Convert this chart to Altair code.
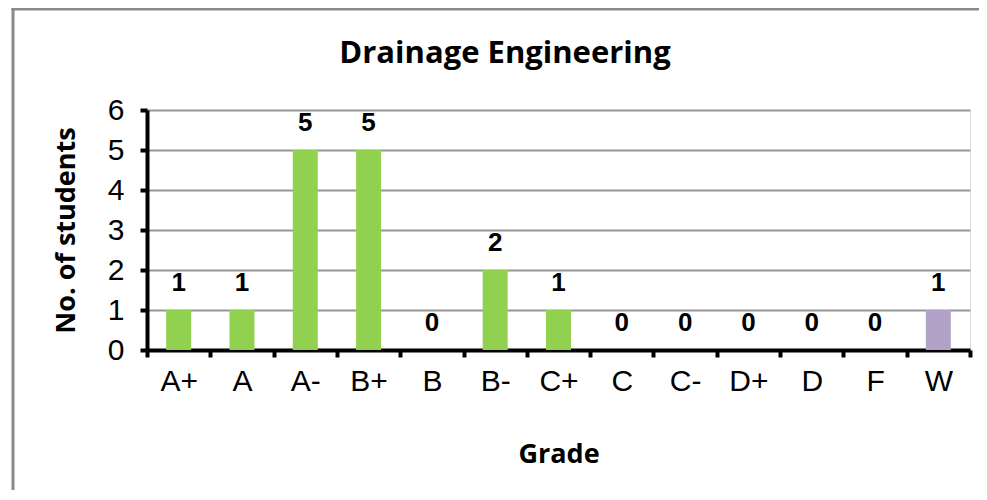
import altair as alt
import pandas as pd

grades = ["A+", "A", "A-", "B+", "B", "B-", "C+", "C", "C-", "D+", "D", "F", "W"]
counts = [1, 1, 5, 5, 0, 2, 1, 0, 0, 0, 0, 0, 1]
groups = ["graded"] * 12 + ["withdrawn"]
title_text = "Drainage Engineering"

df = pd.DataFrame({"Grade": grades, "Count": counts, "Group": groups})

W, H = 823, 240

x_enc = alt.X(
    "Grade:N",
    sort=grades,
    scale=alt.Scale(paddingInner=0, paddingOuter=0),
    axis=alt.Axis(
        title="Grade",
        labelAngle=0,
        labelFont="Liberation Sans",
        labelFontSize=30,
        labelColor="black",
        labelPadding=9,
        labelOverlap=False,
        tickBand="extent",
        tickSize=7,
        tickWidth=4,
        tickColor="black",
        domainColor="black",
        domainWidth=4,
        titleFont="Open Sans",
        titleFontWeight="bold",
        titleFontSize=27,
        titleColor="black",
        titlePadding=45,
        grid=False,
    ),
)

y_enc = alt.Y(
    "Count:Q",
    scale=alt.Scale(domain=[0, 6], nice=False),
    axis=alt.Axis(
        title="No. of students",
        values=[0, 1, 2, 3, 4, 5, 6],
        labelFont="Liberation Sans",
        labelFontSize=30,
        labelColor="black",
        labelPadding=16,
        labelOverlap=False,
        tickSize=7,
        tickWidth=4,
        tickColor="black",
        domainColor="black",
        domainWidth=4,
        grid=True,
        gridColor="#969696",
        gridWidth=2,
        titleFont="Open Sans",
        titleFontWeight="bold",
        titleFontSize=27,
        titleColor="black",
        titlePadding=27,
    ),
)

bars = alt.Chart(df).mark_bar(size=25).encode(
    x=x_enc,
    y=y_enc,
    color=alt.Color(
        "Group:N",
        scale=alt.Scale(domain=["graded", "withdrawn"], range=["#92d050", "#b3a2c7"]),
        legend=None,
    ),
)

labels = alt.Chart(df).mark_text(
    baseline="bottom",
    dy=-14,
    font="Liberation Sans",
    fontWeight="bold",
    fontSize=26,
    color="black",
).encode(
    x=x_enc,
    y=y_enc,
    text=alt.Text("Count:Q"),
)

frame_top = alt.Chart(alt.Data(values=[{}])).mark_rule(
    stroke="#8a8a8a", strokeWidth=3
).encode(
    x=alt.value(-135.5),
    x2=alt.value(900),
    y=alt.value(-101),
)

frame_left = alt.Chart(alt.Data(values=[{}])).mark_rule(
    stroke="#8a8a8a", strokeWidth=3
).encode(
    x=alt.value(-134),
    y=alt.value(-102.5),
    y2=alt.value(600),
)

title = alt.Chart(alt.Data(values=[{}])).mark_text(
    font="Open Sans",
    fontSize=31,
    fontWeight="bold",
    color="black",
    align="center",
    baseline="alphabetic",
).encode(
    x=alt.value(358),
    y=alt.value(-47),
    text=alt.value(title_text),
)

chart = alt.layer(frame_top, frame_left, bars, labels, title).properties(
    width=W,
    height=H,
    autosize=alt.AutoSizeParams(type="none"),
    padding={"left": 139, "top": 102, "right": 9, "bottom": 140},
).configure_view(stroke=None).configure(background="white")

chart.save("out.html", embed_options={"renderer": "svg", "actions": False})
